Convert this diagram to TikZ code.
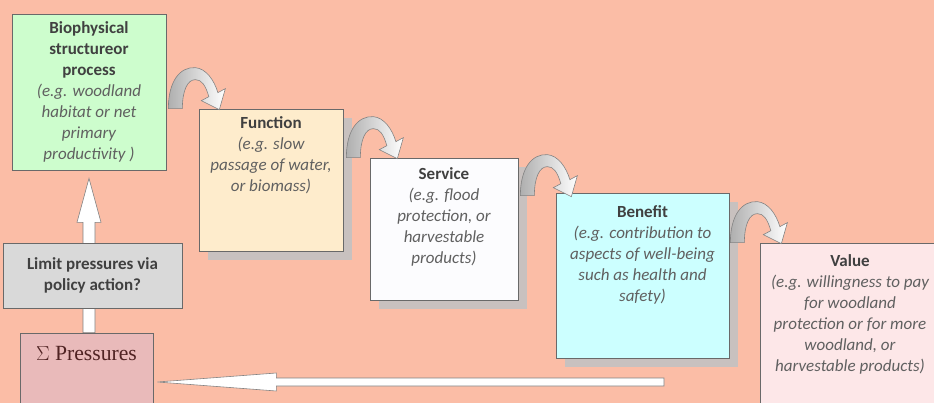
\documentclass[tikz,border=0pt]{standalone}
\usepackage{fontspec}
\setmainfont{Carlito}
\newfontfamily\pressfont{Liberation Serif}
\usetikzlibrary{calc,shadows}

\definecolor{bgsalmon}{RGB}{251,189,166}
\definecolor{biogreen}{RGB}{205,253,205}
\definecolor{funcbeige}{RGB}{254,236,204}
\definecolor{servwhite}{RGB}{252,252,254}
\definecolor{benecyan}{RGB}{204,255,255}
\definecolor{valuepink}{RGB}{253,231,232}
\definecolor{limitgray}{RGB}{217,217,217}
\definecolor{prespink}{RGB}{233,186,186}
\definecolor{boxline}{RGB}{105,105,105}
\definecolor{shadowgray}{RGB}{200,193,191}
\definecolor{titlegray}{RGB}{64,64,64}
\definecolor{notegray}{RGB}{96,96,96}
\definecolor{arrowline}{RGB}{130,130,130}
\definecolor{bendgray}{RGB}{175,175,175}
\definecolor{presstext}{RGB}{80,35,35}

\newcommand{\boxhead}[1]{{\normalfont\bfseries\color{titlegray}#1}}

% gebogener Pfeil von einem Kasten zum naechsten
\newcommand{\bendarrow}[1]{%
  \draw[bendfill, shift={#1}] (0,0) .. controls (0,-28) and (12,-42) .. (27,-41)
    .. controls (38,-40) and (46,-28) .. (49.5,-16) -- (57,-20) -- (51,1) -- (33,-8) -- (40.5,-12)
    .. controls (37,-24) and (33,-29) .. (27,-29) .. controls (19,-29) and (14,-18) .. (14,0) -- cycle;}

\tikzset{
  box/.style={draw=boxline, line width=0.6pt, inner sep=0pt},
  shadowbox/.style={box, drop shadow={shadow xshift=0.27cm, shadow yshift=-0.27cm, fill=shadowgray, opacity=1}},
  note/.style={align=center, inner sep=0pt, anchor=north, text=notegray,
    font=\fontsize{14.5}{17.9}\selectfont\itshape},
  whitearrow/.style={draw=arrowline, fill=white, line width=0.5pt},
  bendfill/.style={draw=arrowline, line width=0.5pt, left color=bendgray, right color=white},
}

\begin{document}
\begin{tikzpicture}[x=0.03cm, y=-0.03cm]
    % --- Hintergrund ---
    \useasboundingbox (0,0) rectangle (934,403);
    \clip (0,0) rectangle (934,403);
    \fill[bgsalmon] (0,0) rectangle (934,403);

    % --- Kaesten ---
    \node[box, fill=biogreen, minimum width=4.62cm, minimum height=4.68cm, note, anchor=center] (bio) at (89,92)
        {\boxhead{Biophysical}\\ \boxhead{structureor}\\ \boxhead{process}\\ (e.g. woodland\\ habitat or net\\ primary\\ productivity )};
    \node[shadowbox, fill=funcbeige, minimum width=4.32cm, minimum height=4.26cm] (func) at (271,180) {};
    \node[shadowbox, fill=servwhite, minimum width=4.44cm, minimum height=4.26cm] (serv) at (444,229) {};
    \node[shadowbox, fill=benecyan, minimum width=5.19cm, minimum height=4.95cm] (bene) at (642.5,275.5) {};
    \node[box, fill=valuepink, minimum width=5.4cm, minimum height=5.31cm] (value) at (850,331.5) {};
    \node[box, fill=prespink, minimum width=3.99cm, minimum height=2.94cm] (pres) at (86.5,382) {};

    % --- Texte ---
    \node[note] (func-t) at ($(func.north)+(0,8)$)
        {\boxhead{Function}\\ (e.g. slow\\ passage of water,\\ or biomass)};
    \node[note] (serv-t) at ($(serv.north)+(0,9.5)$)
        {\boxhead{Service}\\ (e.g. flood\\ protection, or\\ harvestable\\ products)};
    \node[note] (bene-t) at ($(bene.north)+(0,13)$)
        {\boxhead{Benefit}\\ (e.g. contribution to\\ aspects of well-being\\ such as health and\\ safety)};
    \node[note] (value-t) at ($(value.north)+(0,11.5)$)
        {\boxhead{Value}\\ (e.g. willingness to pay\\ for woodland\\ protection or for more\\ woodland, or\\ harvestable products)};
    \node[anchor=north, inner sep=0pt, text=presstext, font=\pressfont\fontsize{18.5}{22}\selectfont] (pres-t)
        at ($(pres.north)+(0,13)$) {$\Sigma$ Pressures};

    % --- Pfeil nach oben (hinter dem grauen Kasten) ---
    \coordinate (up-base) at (bio.south |- pres.north);
    \coordinate (up-tip) at ($(bio.south)+(0,8)$);
    \draw[whitearrow] ($(up-base)+(-6,0)$) -- ($(up-tip)+(-6,44)$) -- ($(up-tip)+(-12,44)$) -- (up-tip)
        -- ($(up-tip)+(12,44)$) -- ($(up-tip)+(6,44)$) -- ($(up-base)+(6,0)$) -- cycle;

    \node[box, fill=limitgray, minimum width=5.37cm, minimum height=1.95cm, align=center,
        font=\fontsize{14.5}{17.9}\selectfont] (limit) at (92.5,275.5)
        {\boxhead{Limit pressures via}\\ \boxhead{policy action?}};

    % --- Pfeil zurueck zu den Pressures ---
    \coordinate (back-tail) at (664,382);
    \coordinate (back-tip) at ($(pres.east)+(4,0)$);
    \draw[whitearrow] ($(back-tail)+(0,-4)$) -- ($(back-tip)+(119,-4)$) -- ($(back-tip)+(119,-9)$) -- (back-tip)
        -- ($(back-tip)+(119,9)$) -- ($(back-tip)+(119,4)$) -- ($(back-tail)+(0,4)$) -- cycle;

    % --- gebogene Pfeile ---
    \bendarrow{($(bio.east |- func.north)+(2,0)$)}
    \bendarrow{($(func.east |- serv.north)+(3,0)$)}
    \bendarrow{($(serv.east |- bene.north)+(2,3)$)}
    \bendarrow{($(bene.east |- value.north)+(1,0)$)}
\end{tikzpicture}
\end{document}
